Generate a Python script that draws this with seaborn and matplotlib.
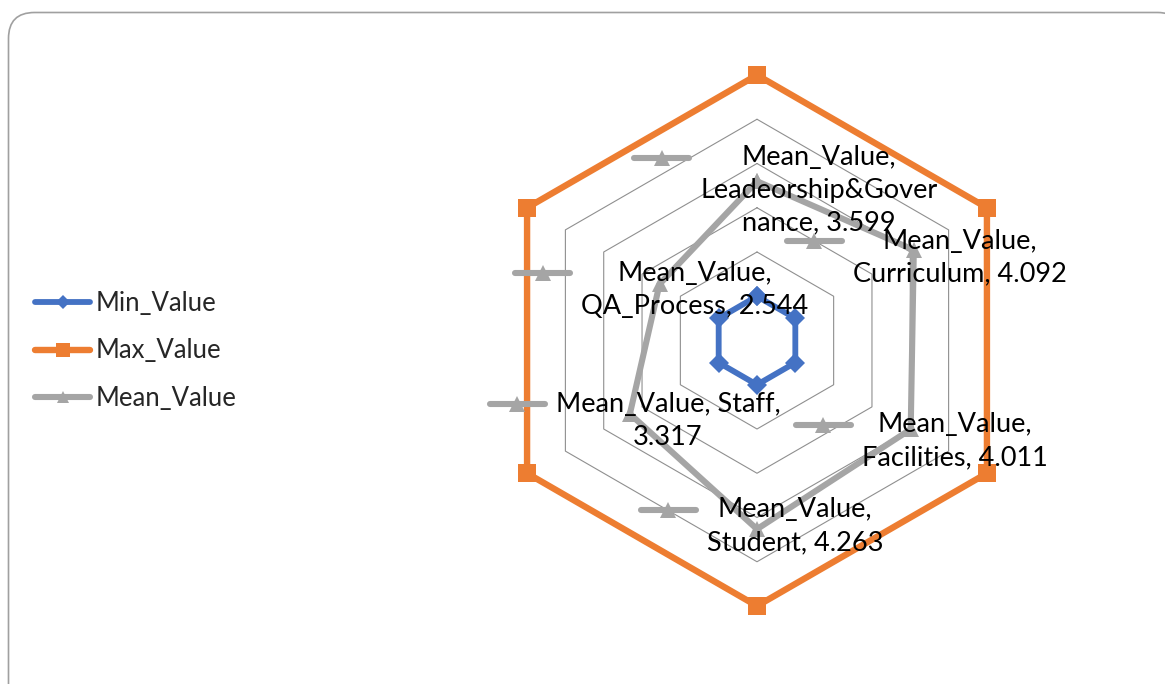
"""Radar chart of min / max / mean scores per quality area (Excel style)."""

import matplotlib

matplotlib.use("Agg")

import matplotlib.pyplot as plt  # noqa: E402
import numpy as np  # noqa: E402
import pandas as pd  # noqa: E402
import seaborn as sns  # noqa: E402
from matplotlib.lines import Line2D  # noqa: E402
from matplotlib.patches import FancyBboxPatch  # noqa: E402
from matplotlib.transforms import IdentityTransform  # noqa: E402

# --- data -------------------------------------------------------------------
categories = ["Leadeorship&Governance", "Curriculum", "Facilities",
              "Student", "Staff", "QA_Process"]
min_values = [1, 1, 1, 1, 1, 1]
max_values = [6, 6, 6, 6, 6, 6]
mean_values = [3.599, 4.092, 4.011, 4.263, 3.317, 2.544]
series_names = ["Min_Value", "Max_Value", "Mean_Value"]
grid_levels = [1, 2, 3, 4, 5, 6]

# Excel wrapped the data labels like this
mean_labels = [
    "Mean_Value,\nLeadeorship&Gover\nnance, 3.599",
    "Mean_Value,\nCurriculum, 4.092",
    "Mean_Value,\nFacilities, 4.011",
    "Mean_Value,\nStudent, 4.263",
    "Mean_Value, Staff,\n3.317",
    "Mean_Value,\nQA_Process, 2.544",
]
# label offsets from the point, pixels (x right, y up)
label_offsets = [(62, -9), (46, -7.5), (44, -12), (38, 3), (38, -7), (35.5, -5.5)]

COLORS = {"Min_Value": "#4472C4", "Max_Value": "#ED7D31", "Mean_Value": "#A5A5A5"}
MARKERS = {"Min_Value": "D", "Max_Value": "s", "Mean_Value": "^"}
LW = {"Min_Value": 4.2, "Max_Value": 4.6, "Mean_Value": 4.4}
MS = {"Min_Value": 10, "Max_Value": 13.5, "Mean_Value": 11}
FS = 19.5
LEG_FS = 18.5

sns.set_style("white")
plt.rcParams["font.family"] = ["Lato", "DejaVu Sans"]

W, H = 1165, 684
fig = plt.figure(figsize=(W / 100, H / 100), dpi=100)

# rounded chart-area border, drawn in pixel units
bg = fig.add_axes([0, 0, 1, 1], zorder=0)
bg.set_xlim(0, W)
bg.set_ylim(H, 0)
bg.axis("off")
bg.add_patch(FancyBboxPatch((8.5, 12.5), 1175, 700,
                            boxstyle="round,pad=0,rounding_size=26",
                            fc="white", ec="#a0a0a0", lw=1.2))

# polar axes: centre (757, 340.5) px, radius 265.5 px
cx, cy, R = 757, 340.5, 265.5
ax = fig.add_axes([(cx - R) / W, (H - cy - R) / H, 2 * R / W, 2 * R / H],
                  projection="polar", zorder=1)
ax.set_facecolor("none")
ax.set_theta_zero_location("N")
ax.set_theta_direction(-1)

n = len(categories)
theta = np.arange(n) * 2 * np.pi / n
theta_closed = np.append(theta, 2 * np.pi)

# hexagonal gridlines
for lvl in grid_levels:
    ax.plot(theta_closed, [lvl] * (n + 1), color="#8f8f8f", lw=0.8, zorder=1)

rows = []
for name, vals in zip(series_names, [min_values, max_values, mean_values]):
    for t, v in zip(theta_closed, list(vals) + [vals[0]]):
        rows.append({"series": name, "theta": t, "value": v})
df = pd.DataFrame(rows)

sns.lineplot(data=df, x="theta", y="value", hue="series", style="series",
             hue_order=series_names, style_order=series_names,
             palette=COLORS, markers=MARKERS, dashes=False, sort=False,
             estimator=None, legend=False, markeredgewidth=0, ax=ax, zorder=2)

data_lines = ax.lines[len(grid_levels):]
for line, name in zip(data_lines, series_names):
    line.set_linewidth(LW[name])
    line.set_markersize(MS[name])
    line.set_clip_on(False)

ax.set_ylim(0, 6)
ax.set_xticks([])
ax.set_yticks([])
ax.grid(False)
ax.spines["polar"].set_visible(False)
ax.set_xlabel("")
ax.set_ylabel("")

# data labels for the mean series
anns = []
for t, v, txt, off in zip(theta, mean_values, mean_labels, label_offsets):
    a = ax.annotate(txt, xy=(t, v), xytext=off, textcoords="offset pixels",
                    ha="center", va="center", multialignment="center",
                    fontsize=FS, linespacing=1.38, color="black", zorder=5)
    anns.append(a)

# Excel also shows the legend key next to each data label
fig.canvas.draw()
renderer = fig.canvas.get_renderer()
for a, txt in zip(anns, mean_labels):
    bb = a.get_window_extent(renderer)
    line_h = bb.height / (txt.count("\n") + 1)
    ky = bb.y1 - line_h * 0.5 + 2
    x1 = bb.x0 - 11
    x0 = x1 - 55
    fig.add_artist(Line2D([x0, x1], [ky, ky], transform=IdentityTransform(),
                          color=COLORS["Mean_Value"], lw=LW["Mean_Value"],
                          solid_capstyle="round", zorder=6))
    fig.add_artist(Line2D([(x0 + x1) / 2], [ky], transform=IdentityTransform(),
                          marker="^", ms=MS["Mean_Value"], mew=0,
                          color=COLORS["Mean_Value"], zorder=6))

# legend on the left
handles = [Line2D([], [], color=COLORS[s], lw=LW[s], marker=MARKERS[s],
                  ms=MS[s] * 0.75, mew=0, solid_capstyle="round")
           for s in series_names]
fig.legend(handles, series_names, loc="center left",
           bbox_to_anchor=(35 / W, (H - 351) / H), frameon=False,
           fontsize=LEG_FS, handlelength=55 / (LEG_FS * 100 / 72),
           handletextpad=0.2, labelspacing=0.88, borderpad=0,
           borderaxespad=0, numpoints=1)

fig.savefig("out.png", dpi=100)
